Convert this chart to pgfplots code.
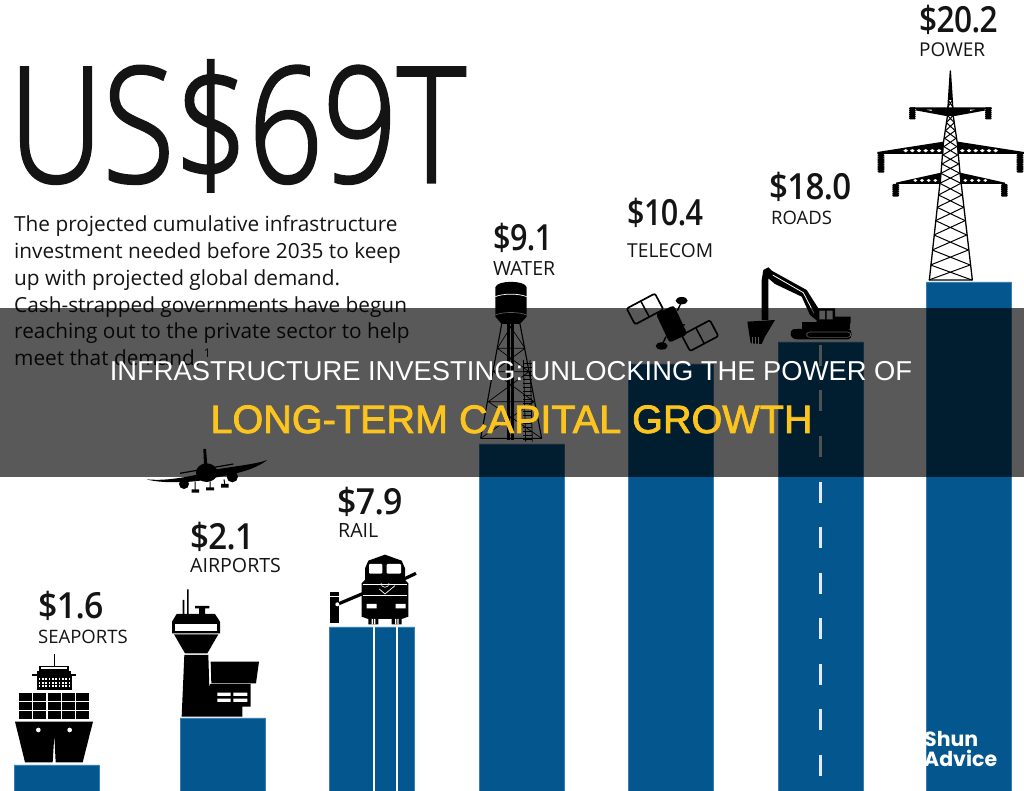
\documentclass[border=0pt]{standalone}
\usepackage{pgfplots}
\pgfplotsset{compat=1.18}
\usepackage{fontspec}
\usepackage{graphicx}
\setmainfont{Open Sans}
\newfontfamily\lightf[FakeBold=2]{Open Sans Light}
\IfFontExistsTF{Open Sans Semibold}{\newfontfamily\semif{Open Sans Semibold}}{\newfontfamily\semif{Open Sans Bold}}
\newfontfamily\titlef{Liberation Sans}
\newfontfamily\titleb[FakeBold=2]{Liberation Sans}
\newfontfamily\wmf{Poppins Bold}
\definecolor{barblue}{HTML}{04568F}
\definecolor{baredge}{HTML}{3A7FB0}
\definecolor{gold}{HTML}{FBC41E}
\newcommand\fs[1]{\fontsize{#1}{#1}\selectfont}
\newcommand\lab[3]{\node[anchor=base west,inner sep=0pt,text=black!92] at (#1,#2) {#3};}
\newcommand\val[2]{\scalebox{#1}[1]{\semif\fs{36}\addfontfeature{LetterSpace=-2}#2}}
\begin{document}
\begin{tikzpicture}[
  declare function={hw(\y)=(\y<350)?(1+(\y-213)*9/137):((\y<520)?(10+(\y-350)*18/170):(28+(\y-520)*36.5/320));},
  px/.style={x=1pt,y=-1pt,shift={(0pt,791pt)}},
  z1/.style={x=0.33333pt,y=-0.33333pt,shift={(0pt,351pt)}},
  z2/.style={x=0.33333pt,y=-0.33333pt,shift={(460pt,611pt)}},
  z3/.style={x=0.33333pt,y=-0.33333pt,shift={(860pt,791pt)}}]
\path[use as bounding box] (0,0) rectangle (1024pt,791pt);
\begin{axis}[at={(0,0)},anchor=south west,scale only axis,width=1024pt,height=791pt,
  xmin=0,xmax=1024,ymin=0,ymax=791,axis lines=none,clip=true]
\addplot[ybar,bar width=85pt,fill=barblue,draw=baredge,line width=0.5pt] coordinates {
 (56.5,26) (222.5,73) (372,164) (521.5,347) (670.5,427) (820.5,449) (968.5,509)};
\end{axis}
% rail and road markings
\begin{scope}[px]
\draw[white,line width=2pt] (373.5,627)--(373.5,791) (396.5,627)--(396.5,791);
\foreach \y in {345,390,436,482,527,573,618,664,709,755}
  \draw[white!88!barblue,line width=3pt] (820,\y)--(820,\y+ 21);
\end{scope}
% ship
\begin{scope}[z1]
\fill (45,845)--(279,845)--(248,967)--(167,967)--(163,885)--(158,967)--(75,967)--cycle;
\fill[white] (115,870) circle (7) (209,870) circle (7);
\foreach \a in {57,100,143,186,229}\foreach \b in {758,786,814}
  \fill (\a,\b) rectangle (\a+39,\b+24);
\fill (110,708) rectangle (217,750);
\foreach \a in {116,126,...,206}\foreach \b in {714,725,736}
  \fill[white] (\a,\b) rectangle (\a+5,\b+6);
\fill (97,702) rectangle (227,708);
\fill (118,678) rectangle (207,693);
\fill[white] (124,682) rectangle (200,686);
\fill (111,693) rectangle (214,702);
\fill (161,643) rectangle (164,680);
% tower
\fill (561,448) rectangle (566,525) (548,480) rectangle (553,525);
\fill (585,498) rectangle (628,505) (597,505) rectangle (615,525);
\fill (530,522)--(645,522)--(660,545)--(660,580)--(516,580)--(516,545)--cycle;
\fill[white] (525,553) rectangle (650,573);
\fill (522,583)--(655,583)--(622,640)--(555,640)--cycle;
\fill (553,645)--(625,645)--(628,745)--(630,732)--(752,732)--(752,800)--(727,800)--(727,830)--(545,830)--cycle;
\fill (632,665)--(777,665)--(768,730)--(634,730)--cycle;
\fill[white] (652,758) rectangle (692,768) (700,758) rectangle (742,768)
             (652,776) rectangle (692,786) (700,776) rectangle (742,786);
% train
\fill (991,455) rectangle (1018,549);
\fill[white] (991,468) rectangle (1018,471);
\draw[line width=3.2pt] (1012,493)--(1095,458) (1210,418)--(1248,400);
\fill[white] (1012,493) circle (6);
\fill (1095,385)--(1105,362)--(1155,344)--(1205,362)--(1215,385)--(1215,420)--(1225,430)--(1225,530)--(1205,537)--(1105,537)--(1085,530)--(1085,430)--(1095,420)--cycle;
\fill[white,rounded corners=1pt] (1107,372) rectangle (1147,401) (1160,372) rectangle (1203,401);
\draw[white,line width=0.6pt] (1088,433)--(1222,433) (1088,465)--(1222,465);
\draw[white,line width=0.7pt] (1138,447)--(1155,462)--(1185,437);
\draw[white,line width=0.6pt] (1143,430) arc (180:0:12);
\fill[white] (1100,492) rectangle (1130,505) (1187,492) rectangle (1217,505);
\fill (1105,533) rectangle (1135,553) (1175,533) rectangle (1205,553);
\fill[white] (1115,537) rectangle (1119,553) (1122,537) rectangle (1126,553)
             (1185,537) rectangle (1189,553) (1192,537) rectangle (1196,553);
% plane
\fill (440,118)..controls (480,122) and (530,118)..(600,102)--(650,88)..controls (710,78) and (770,72)..(802,60)..controls (770,85) and (720,100)..(650,112)--(600,122)..controls (560,128) and (480,130)..(440,118)--cycle;
\fill (620,98) ellipse (32 and 28);
\fill (610,27)--(618,27)--(622,75)--(612,75)--cycle;
\draw[line width=1.2pt] (540,100)--(700,72);
\fill (552,132) circle (15) (697,110) circle (17);
\draw[line width=1pt] (585,125)--(585,150) (630,125)--(630,146) (672,118)--(675,138);
\fill (575,148) rectangle (597,158) (618,142) rectangle (642,151) (663,132) rectangle (686,143);
\end{scope}
% water tower, satellite, excavator
\begin{scope}[z2]
\fill (106,322)..controls (110,300) and (196,300)..(200,322)--(200,410)--(180,432)--(125,432)--(106,410)--cycle;
\draw[white,line width=0.7pt] (106,350)..controls (130,340) and (175,340)..(200,350) (106,405)..controls (130,395) and (175,395)..(200,405);
\draw[line width=1.1pt] (125,432)--(62,775) (180,432)--(245,775) (62,775)--(245,775);
\draw[line width=2.4pt] (146,432)--(146,780) (158,432)--(158,780);
\draw[line width=0.7pt] (112,505)--(195,505) (100,575)--(207,575) (85,665)--(222,665)
  (112,505)--(158,432) (195,505)--(146,432)
  (112,505)--(207,575) (195,505)--(100,575)
  (100,575)--(222,665) (207,575)--(85,665)
  (85,665)--(245,775) (222,665)--(62,775);
\draw[line width=0.8pt] (190,540)--(197,785) (210,540)--(217,785);
\foreach \y in {550,562,...,780} \draw[line width=0.6pt] (190,\y)--(215,\y);
% satellite
\begin{scope}[shift={(555,387)},rotate=28]
\draw[line width=1.7pt,rounded corners=2pt] (-48,-27) rectangle (48,27);
\draw[line width=1.5pt] (0,-27)--(0,27);
\end{scope}
\begin{scope}[shift={(720,467)},rotate=28]
\draw[line width=1.7pt,rounded corners=2pt] (-48,-27) rectangle (48,27);
\draw[line width=1.5pt] (0,-27)--(0,27);
\end{scope}
\draw[line width=1.2pt] (600,405)--(675,450) (600,425)--(675,435);
\begin{scope}[shift={(635,432)},rotate=25]
\fill[rounded corners=3pt] (-30,-48) rectangle (30,48);
\end{scope}
\draw[line width=1.4pt] (652,392)--(665,365) (618,470)--(605,497);
\fill (665,362) ellipse (18 and 11) (605,498) ellipse (18 and 11);
% excavator
\fill (992,462)..controls (992,448) and (1000,447)..(1010,447)--(1165,447)..controls (1178,447) and (1178,478)..(1165,478)--(1010,478)..controls (1000,478) and (992,470)..(992,462)--cycle;
\draw[white,line width=0.6pt,rounded corners=3pt] (1040,456) rectangle (1172,472);
\fill (1025,425) rectangle (1170,447);
\fill (1070,385) rectangle (1125,430) (1125,410) rectangle (1172,430);
\fill[white] (1078,392) rectangle (1095,418) (1100,392) rectangle (1118,418);
\fill (925,262)--(935,272)--(1040,330)--(1075,385)--(1075,425)--(1050,405)--(1025,350)--(945,312)--(925,295)--(925,420)--(905,420)--(905,300)--(910,270)--cycle;
\draw[white,line width=0.8pt] (938,285)--(1030,338)--(1062,400);
\fill (862,425)--(945,420)--(915,470)--(905,492)--(872,490)--(868,465)--cycle;
\foreach \a in {878,886,894} \draw[white,line width=0.4pt] (\a,470)--(\a,492);
\end{scope}
% power pylon
\begin{scope}[z3]
\draw[line width=1.3pt,join=round] (271,213)--(262,350)--(250,430)--(243,520)--(208,840)--(337,840)--(300,520)--(292,430)--(280,350)--cycle;
\fill (271,213)--(266,300)--(276,300)--cycle;
\foreach \a/\b in {300/322,322/345,345/368,368/392,392/415,415/440,440/465,465/492,492/520,520/550,550/585,585/622,622/662,662/705,705/750,750/795,795/840}
 \draw[line width=1pt] ({271-hw(\a)},\a)--({271+hw(\b)},\b) ({271+hw(\a)},\a)--({271-hw(\b)},\b);
% arms
\fill (150,322)--(395,322)--(395,328)--(285,348)--(258,348)--(150,328)--cycle;
\fill[white] (200,329)--(215,329)--(215,333)--cycle (330,329)--(345,329)--(330,333)--cycle;
\fill (52,456)--(250,425)--(250,462)--(52,462)--cycle (492,456)--(293,425)--(293,462)--(492,462)--cycle;
\fill (108,548)--(243,518)--(243,552)--(108,552)--cycle (435,548)--(300,518)--(300,552)--(435,552)--cycle;
\foreach \a in {130,150,170,190,210,230}
  \fill[white] (\a,452) -- (\a+7,447) -- (\a+14,452) -- (\a+7,457) --cycle;
\foreach \a in {300,320,340,360,380,400}
  \fill[white] (\a,452) -- (\a+7,447) -- (\a+14,452) -- (\a+7,457) --cycle;
\foreach \a in {160,180,200,220}
  \fill[white] (\a,541) -- (\a+6,537) -- (\a+12,541) -- (\a+6,546) --cycle;
\foreach \a in {310,330,350,370}
  \fill[white] (\a,541) -- (\a+6,537) -- (\a+12,541) -- (\a+6,546) --cycle;
% insulators
\foreach \a/\b/\c/\n in {157/322/358/5,385/322/358/5,63/462/518/7,480/462/518/7,107/552/590/5,433/552/590/5}{
 \fill[rounded corners=1pt] (\a-10,\b) rectangle (\a+10,\c);
 \foreach \i in {1,...,\n}{
   \pgfmathsetmacro\yy{\b+(\c-\b)*\i/(\n+1)}
   \fill[white] (\a-11,\yy-0.6) rectangle (\a-8,\yy+0.6) (\a+8,\yy-0.6) rectangle (\a+11,\yy+0.6);
 }}
\end{scope}
% texts
\begin{scope}[px]
\lab{9}{182}{\scalebox{0.815}[1]{\lightf\fs{160}US\$69T}}
\foreach \yy/\t in {232/The projected cumulative infrastructure,259/investment needed before 2035 to keep,286/up with projected global demand.,313/Cash-strapped governments have begun,339/reaching out to the private sector to help}
  {\lab{14}{\yy}{\fs{20.8}\t}}
\lab{14}{366}{\fs{20.8}meet that demand.\,\raisebox{8pt}{\fs{12}1}}
\lab{38}{619}{\val{0.94}{\$1.6}}
\lab{38}{644}{\fs{18.5}SEAPORTS}
\lab{190}{550}{\val{0.92}{\$2.1}}
\lab{190}{573}{\fs{19.6}AIRPORTS}
\lab{337}{515}{\val{0.94}{\$7.9}}
\lab{338}{538}{\fs{19.6}RAIL}
\lab{493}{251}{\val{0.85}{\$9.1}}
\lab{493}{276}{\fs{19.5}WATER}
\lab{627}{226}{\val{0.85}{\$10.4}}
\lab{627}{258}{\fs{19.2}TELECOM}
\lab{769}{200}{\val{0.92}{\$18.0}}
\lab{771}{225}{\fs{18.5}ROADS}
\lab{919}{33}{\val{0.88}{\$20.2}}
\lab{919}{57}{\fs{19}POWER}
% overlay banner
\fill[black,opacity=0.65] (0,308) rectangle (1024,477);
\node[anchor=base,inner sep=0pt,text=white] at (511,381) {\titlef\fs{27.35}INFRASTRUCTURE INVESTING: UNLOCKING THE POWER OF};
\node[anchor=base,inner sep=0pt,text=gold] at (511.5,433) {\titleb\fs{39.6}LONG-TERM CAPITAL GROWTH};
\node[anchor=base west,inner sep=0pt,text=white] at (924,747) {\wmf\fs{20.5}Shun};
\node[anchor=base west,inner sep=0pt,text=white] at (924,767) {\wmf\fs{20.5}Advice};
\end{scope}
\end{tikzpicture}
\end{document}
